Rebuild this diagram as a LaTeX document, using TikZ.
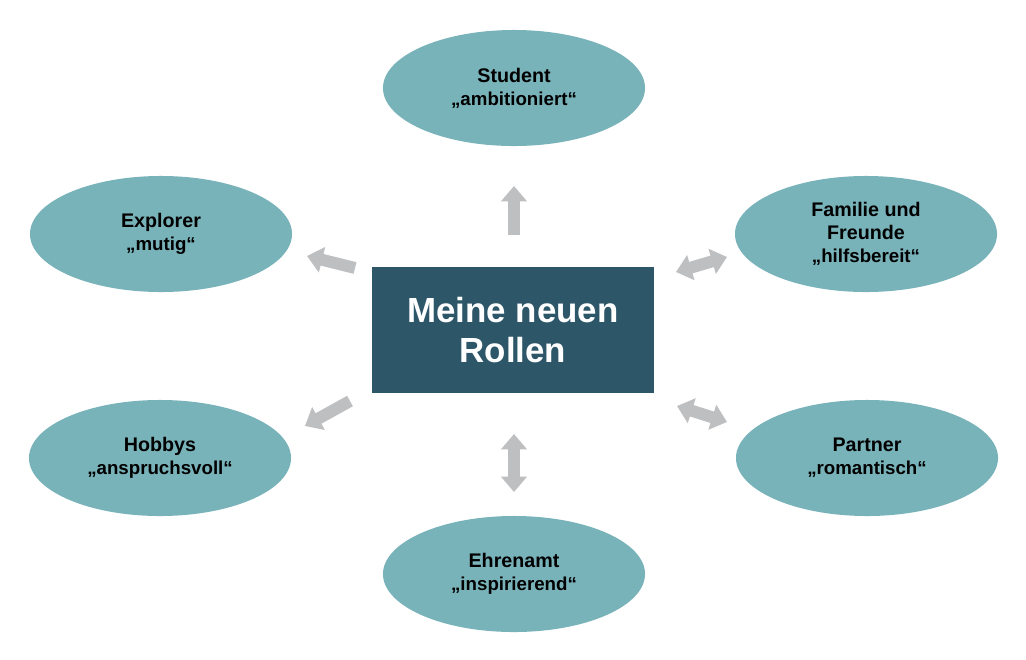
\documentclass[tikz,border=0pt]{standalone}
\usepackage{fontspec}
\setmainfont{Liberation Sans}
\usetikzlibrary{shapes.geometric,arrows.meta}
\definecolor{ellfill}{HTML}{79B3BA}
\definecolor{boxfill}{HTML}{2D5669}
\definecolor{arrgray}{HTML}{BDBFC1}
\tikzset{
  role/.style={ellipse, fill=ellfill, draw=none, minimum width=6.55cm, minimum height=2.9cm, inner sep=0pt, align=center, font=\bfseries\fontsize{14pt}{16.5pt}\selectfont},
  centerbox/.style={rectangle, fill=boxfill, draw=none, minimum width=7.05cm, minimum height=3.15cm, inner sep=0pt, align=center, text=white, font=\bfseries\fontsize{24.8pt}{28pt}\selectfont},
  tipshape/.tip={Triangle[length=11pt,width=18pt]},
  onearrow/.style={draw=arrgray, line width=8.5pt, -tipshape},
  twoarrow/.style={draw=arrgray, line width=8.5pt, tipshape-tipshape},
}
\newcommand{\qline}[1]{{\fontsize{13.3pt}{16.5pt}\selectfont #1}}
\begin{document}
\begin{tikzpicture}[x=0.025cm,y=-0.025cm]
\useasboundingbox (0,0) rectangle (1026,659);
\node[centerbox] (center) at (513,330) {Meine neuen\\Rollen};
\node[role] (student) at (514,88) {Student\\\qline{„ambitioniert“}};
\node[role] (explorer) at (161,234) {Explorer\\\qline{„mutig“}};
\node[role] (familie) at (866,234) {Familie und\\Freunde\\\qline{„hilfsbereit“}};
\node[role] (hobbys) at (160,458) {Hobbys\\\qline{„anspruchsvoll“}};
\node[role] (partner) at (867,458) {Partner\\\qline{„romantisch“}};
\node[role] (ehrenamt) at (514,574) {Ehrenamt\\\qline{„inspirierend“}};
% arrow end points
\coordinate (su1) at (514,235); \coordinate (su2) at (514,186);
\coordinate (ex1) at (355,268); \coordinate (ex2) at (307,256);
\coordinate (fa1) at (676,272); \coordinate (fa2) at (727,257);
\coordinate (pa1) at (677,406); \coordinate (pa2) at (727,422);
\coordinate (eh1) at (514,434); \coordinate (eh2) at (514,492);
\coordinate (ho1) at (350,401); \coordinate (ho2) at (305,426);
\draw[onearrow] (su1) -- (su2);
\draw[onearrow] (ex1) -- (ex2);
\draw[twoarrow] (fa1) -- (fa2);
\draw[twoarrow] (pa1) -- (pa2);
\draw[twoarrow] (eh1) -- (eh2);
\draw[onearrow] (ho1) -- (ho2);
\end{tikzpicture}
\end{document}
